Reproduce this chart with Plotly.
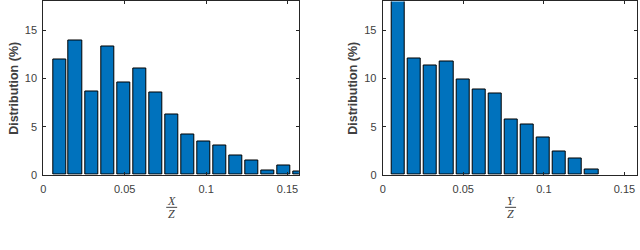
import plotly.graph_objects as go

# Left panel: X/Z distribution
xz_centers = [0.0099, 0.0197, 0.0296, 0.0394, 0.0493, 0.0591, 0.0689, 0.0788,
              0.0886, 0.0985, 0.1083, 0.1181, 0.1280, 0.1378, 0.1477, 0.1575]
xz_values = [12.0, 14.0, 8.7, 13.3, 9.6, 11.0, 8.6, 6.25,
             4.2, 3.5, 3.0, 2.0, 1.5, 0.5, 0.97, 0.31]

# Right panel: Y/Z distribution
yz_centers = [0.0097, 0.0197, 0.0297, 0.0397, 0.0497, 0.0597, 0.0697,
              0.0797, 0.0897, 0.0997, 0.1097, 0.1197, 0.1297]
yz_values = [20.0, 12.1, 11.4, 11.75, 9.9, 8.9, 8.4,
             5.7, 5.25, 3.88, 2.4, 1.7, 0.55]

x_ticks = [0, 0.05, 0.1, 0.15]
x_ticklabels = ["0", "0.05", "0.1", "0.15"]
y_ticks = [0, 5, 10, 15]
y_ticklabels = ["0", "5", "10", "15"]

BAR = "#0072BD"
AX = "#262626"
TXT = "#404040"
W, H = 640, 250
VS = 1.022  # vertical correction

fig = go.Figure()
fig.add_trace(go.Bar(x=xz_centers, y=xz_values, width=0.0081,
                     marker=dict(color=BAR, line=dict(color="black", width=1)),
                     xaxis="x", yaxis="y", showlegend=False))
fig.add_trace(go.Bar(x=yz_centers, y=yz_values, width=0.0081,
                     marker=dict(color=BAR, line=dict(color="black", width=1)),
                     xaxis="x2", yaxis="y2", showlegend=False))

def py(pix):
    return (H - pix * VS) / H

ydom = [py(175), 0.998]
left_dom = [40.5 / W, 297.3 / W]
right_dom = [381.5 / W, 637.3 / W]

def xaxis(dom, rng, anchor):
    return dict(domain=dom, range=rng, anchor=anchor, tickvals=x_ticks, ticktext=x_ticklabels,
                ticks="inside", ticklen=3, tickcolor=AX, showline=True, linecolor=AX,
                linewidth=1, mirror="ticks", showgrid=False, zeroline=False,
                tickfont=dict(family="Liberation Sans, Arial", size=11, color=TXT),
                ticklabelstandoff=4)

def yaxis(anchor):
    return dict(domain=ydom, range=[0, 18], anchor=anchor, tickvals=y_ticks, ticktext=y_ticklabels,
                ticks="inside", ticklen=3, tickcolor=AX, showline=True, linecolor=AX,
                linewidth=1, mirror="ticks", showgrid=False, zeroline=False,
                tickfont=dict(family="Liberation Sans, Arial", size=11, color=TXT),
                ticklabelstandoff=3)

fig.update_layout(
    width=W, height=H, margin=dict(l=0, r=0, t=0, b=0),
    paper_bgcolor="white", plot_bgcolor="white",
    xaxis=xaxis(left_dom, [0, 0.157], "y"),
    yaxis=yaxis("x"),
    xaxis2=xaxis(right_dom, [0, 0.158], "y2"),
    yaxis2=yaxis("x2"),
    bargap=0,
)

annots = []
for xc in [11 / W, 351.5 / W]:
    annots.append(dict(x=xc, y=py(87.5), xref="paper", yref="paper", text="<b>Distribution (%)</b>",
                       textangle=-90, showarrow=False, xanchor="center", yanchor="middle",
                       font=dict(family="Liberation Sans, Arial", size=12.5, color=TXT)))
for xc, num in [(169.5, "X"), (510, "Y")]:
    annots.append(dict(x=xc / W, y=py(201), xref="paper", yref="paper", text="<i>" + num + "</i>",
                       showarrow=False, xanchor="center", yanchor="middle",
                       font=dict(family="Liberation Serif, Times New Roman", size=12, color=TXT)))
    annots.append(dict(x=xc / W, y=py(214.5), xref="paper", yref="paper", text="<i>Z</i>",
                       showarrow=False, xanchor="center", yanchor="middle",
                       font=dict(family="Liberation Serif, Times New Roman", size=12, color=TXT)))
    fig.add_shape(type="line", xref="paper", yref="paper",
                  x0=(xc - 5.5) / W, x1=(xc + 5.5) / W, y0=py(207.7), y1=py(207.7),
                  line=dict(color=TXT, width=1))
fig.update_layout(annotations=annots)

fig.write_html("out.html", config={"displayModeBar": False},
               post_script="document.body.style.margin='0';")
